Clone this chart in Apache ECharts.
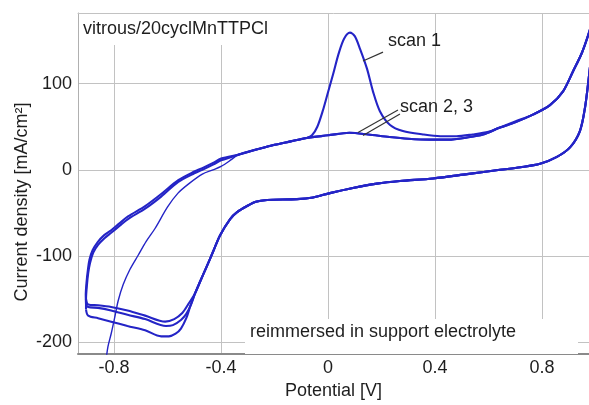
<!DOCTYPE html>
<html><head><meta charset="utf-8">
<script src="https://cdn.jsdelivr.net/npm/echarts@6/dist/echarts.min.js"></script>
<style>html,body{margin:0;padding:0;background:#fff}#c{width:589px;height:405px}</style>
</head><body><div id="c"></div>
<script>
// ---- axis ticks ----
const potentialTicks = [-0.8, -0.4, 0, 0.4, 0.8];
const currentTicks = [-200, -100, 0, 100];

// ---- scan 1: initial (thin) anodic start ----
const scan1StartV = [-0.832, -0.823, -0.811, -0.797, -0.785, -0.766, -0.74, -0.71, -0.68, -0.647, -0.6, -0.561, -0.52, -0.47, -0.43, -0.4, -0.37, -0.34];
const scan1StartI = [-225, -205, -190, -170, -152, -133, -115, -99, -83, -68, -43, -27, -16, -5, 0, 4, 10, 17];

// ---- scan 1: anodic sweep with oxidation peak ----
const scan1PeakV = [-0.34, -0.3, -0.25, -0.2, -0.14, -0.08, -0.06, -0.04, -0.02, 0.0, 0.02, 0.04, 0.06, 0.082, 0.1, 0.12, 0.146, 0.168, 0.194, 0.232, 0.28, 0.355, 0.42, 0.48, 0.54, 0.6, 0.643, 0.7, 0.766, 0.83, 0.879, 0.916, 0.95, 0.976, 1.0];
const scan1PeakI = [17, 21, 25, 29, 33, 37, 40, 50, 68, 90, 112, 135, 152, 159, 155, 140, 117, 91, 68, 52, 45, 41, 39, 39, 41, 44, 49, 56, 64, 75, 91, 114, 136, 159, 185];

// ---- scans 2, 3: anodic sweep (no peak) ----
const anodicV = [-0.33, -0.25, -0.2, -0.14, -0.08, 0, 0.08, 0.15, 0.23, 0.3, 0.38, 0.45, 0.52, 0.58, 0.643, 0.7, 0.766, 0.83, 0.879, 0.916, 0.95, 0.976, 1.0];
const anodicI = [18, 25, 29, 33, 37, 40, 43, 41, 38, 36, 35, 35, 37.5, 41, 49, 55, 64, 75, 91, 114, 136, 159, 185];

// ---- cathodic return (common part) ----
const cathodicV = [1.0, 0.99, 0.976, 0.961, 0.942, 0.905, 0.856, 0.793, 0.72, 0.643, 0.52, 0.393, 0.269, 0.183, 0.093, 0.007, -0.056, -0.116, -0.228, -0.27, -0.303, -0.34, -0.366, -0.404, -0.43, -0.455, -0.479, -0.497];
const cathodicI = [185, 150, 109, 72, 45, 26, 15, 7, 3, 0, -5, -10, -13, -16, -21, -27, -32, -34, -35, -37, -42, -49, -57, -76, -95, -113, -130, -143];

// ---- reduction minimum region of each scan ----
const scan1FootV = [-0.497, -0.515, -0.53, -0.55, -0.57, -0.595, -0.624, -0.684, -0.75, -0.811, -0.86, -0.897, -0.905];
const scan1FootI = [-143, -158, -172, -184, -190, -193, -193, -186, -181, -176, -172, -169, -162];
const scan2FootV = [-0.497, -0.512, -0.53, -0.55, -0.58, -0.606, -0.684, -0.75, -0.811, -0.86, -0.897, -0.905];
const scan2FootI = [-143, -156, -167, -174, -180, -181, -173, -168, -163, -160, -159, -156];
const scan3FootV = [-0.497, -0.523, -0.545, -0.575, -0.609, -0.684, -0.75, -0.811, -0.86, -0.897, -0.905];
const scan3FootI = [-143, -156, -166, -173, -176, -169, -163, -159, -157, -156, -150];

// ---- rising branches after the cathodic vertex ----
const scan2RiseV = [-0.905, -0.905, -0.902, -0.897, -0.89, -0.878, -0.86, -0.835, -0.811, -0.78, -0.748, -0.684, -0.624, -0.56, -0.5, -0.47, -0.43, -0.4, -0.33];
const scan2RiseI = [-162, -150, -135, -120, -108, -96, -87, -79, -73, -65, -57, -45, -31, -14, -4, 0, 6, 11, 18];
const scan3RiseV = [-0.905, -0.906, -0.903, -0.898, -0.892, -0.88, -0.862, -0.838, -0.811, -0.78, -0.748, -0.684, -0.624, -0.56, -0.5, -0.47, -0.43, -0.4, -0.33];
const scan3RiseI = [-156, -145, -130, -116, -104, -93, -84, -76, -70, -62, -54, -42, -28, -12, -2, 2, 8, 13, 18];

function pts(vs, is) { return vs.map((v, k) => [v, is[k]]); }
const scan1Start = pts(scan1StartV, scan1StartI);
const scan1 = [].concat(pts(scan1PeakV, scan1PeakI), pts(cathodicV, cathodicI), pts(scan1FootV, scan1FootI));
const scan2 = [].concat(pts(scan2RiseV, scan2RiseI), pts(anodicV, anodicI), pts(cathodicV, cathodicI), pts(scan2FootV, scan2FootI));
const scan3 = [].concat(pts(scan3RiseV, scan3RiseI), pts(anodicV, anodicI), pts(cathodicV, cathodicI), pts(scan3FootV, scan3FootI));

const FONT = '"Liberation Sans", Arial, Helvetica, sans-serif';
const TXT = '#1e1e1e';
const BLUE = '#2424c6';
const GRID = '#c2c2c2';

const chart = echarts.init(document.getElementById('c'), null, { renderer: 'canvas' });
function line(name, data, w) {
  return { name, type: 'line', data, showSymbol: false, symbol: 'none', clip: true, smooth: 0.3,
    lineStyle: { color: BLUE, width: w }, itemStyle: { color: BLUE }, z: 3 };
}
chart.setOption({
  animation: false,
  backgroundColor: '#ffffff',
  textStyle: { fontFamily: FONT },
  grid: { left: 78, right: 0, top: 13, bottom: 44, containLabel: false },
  xAxis: [{
    type: 'value', min: -0.935, max: 0.976,
    axisLine: { show: true, onZero: false, lineStyle: { color: '#8a8a8a', width: 2 } },
    axisTick: { show: false, customValues: potentialTicks },
    axisLabel: { customValues: potentialTicks, fontSize: 18, color: TXT, margin: 5, fontFamily: FONT, formatter: v => String(v) },
    splitLine: { show: true, lineStyle: { color: GRID, width: 1 } },
    name: 'Potential [V]', nameLocation: 'middle', nameGap: 23,
    nameTextStyle: { fontSize: 18, color: TXT, fontFamily: FONT }
  }, {
    type: 'value', position: 'top', min: -0.935, max: 0.976,
    axisLine: { show: true, onZero: false, lineStyle: { color: GRID, width: 1 } },
    axisTick: { show: false }, axisLabel: { show: false }, splitLine: { show: false }
  }],
  yAxis: {
    type: 'value', min: -213.6, max: 181.8,
    axisLine: { show: true, onZero: false, lineStyle: { color: '#b0b0b0', width: 1 } },
    axisTick: { show: false, customValues: currentTicks },
    axisLabel: { customValues: currentTicks, fontSize: 18, color: TXT, margin: 6, fontFamily: FONT },
    splitLine: { show: true, lineStyle: { color: GRID, width: 1 } }
  },
  series: [
    line('scan 1 start', scan1Start, 1.4),
    line('scan 1', scan1, 2.1),
    line('scan 2', scan2, 2.1),
    line('scan 3', scan3, 2.1)
  ]
});

// annotations positioned in data coordinates
const P = (v, i) => chart.convertToPixel({ xAxisIndex: 0, yAxisIndex: 0 }, [v, i]);
const s1Lab = P(0.224, 148.9);
const s23Lab = P(0.269, 72.7);
const l1a = P(0.1308, 126.1), l1b = P(0.2056, 136.4);
const l2a = P(0.1121, 43.2), l2b = P(0.2617, 69.3);
const l3a = P(0.1308, 39.8), l3b = P(0.269, 64.8);
const lineStyle = { stroke: '#333', lineWidth: 1.2 };
function seg(a, b) { return { type: 'line', z: 20, shape: { x1: a[0], y1: a[1], x2: b[0], y2: b[1] }, style: lineStyle }; }
function txt(t, x, y, extra) {
  return Object.assign({ type: 'text', z: 21, x, y, style: { text: t, fill: TXT, font: '18px ' + FONT, textAlign: 'left', textVerticalAlign: 'middle' } }, extra || {});
}
chart.setOption({
  graphic: [
    { type: 'rect', z: 10, shape: { x: 79, y: 14, width: 203, height: 31 }, style: { fill: '#fff' } },
    txt('vitrous/20cyclMnTTPCl', 83, 29),
    { type: 'rect', z: 10, shape: { x: 245, y: 319, width: 333, height: 35 }, style: { fill: '#fff' } },
    txt('reimmersed in support electrolyte', 250, 332),
    txt('scan 1', s1Lab[0], s1Lab[1]),
    txt('scan 2, 3', s23Lab[0], s23Lab[1]),
    seg(l1a, l1b), seg(l2a, l2b), seg(l3a, l3b),
    { type: 'text', z: 21, x: 22, y: 202, rotation: Math.PI / 2,
      style: { text: 'Current density [mA/cm²]', fill: TXT, font: '18px ' + FONT, textAlign: 'center', textVerticalAlign: 'middle' } }
  ]
});
</script></body></html>
